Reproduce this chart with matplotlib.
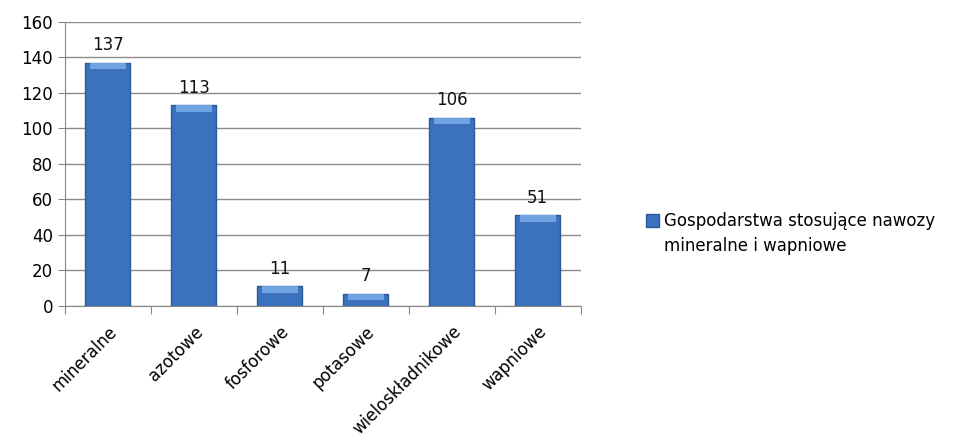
import matplotlib.pyplot as plt
from matplotlib.patches import Patch

kategorie = ['mineralne', 'azotowe', 'fosforowe', 'potasowe', 'wieloskładnikowe', 'wapniowe']
wartosci = [137, 113, 11, 7, 106, 51]
seria = ['Gospodarstwa stosujące nawozy', 'mineralne i wapniowe']
yticks = [0, 20, 40, 60, 80, 100, 120, 140, 160]

plt.rcParams['font.family'] = ['DejaVu Sans']

fig = plt.figure(figsize=(9.68, 4.48), dpi=100)
ax = fig.add_axes([0.067, 0.317, 0.533, 0.634])

x = range(len(kategorie))
bars = ax.bar(x, wartosci, width=0.52, color='#3b72bd', edgecolor='#2b5a98',
              linewidth=1.0, zorder=3)

# jasniejszy pasek na gorze slupka (efekt fazy)
for b in bars:
    h = min(b.get_height(), 3.5)
    ax.bar(b.get_x() + b.get_width() / 2, h, bottom=b.get_height() - h,
           width=b.get_width() * 0.8, color='#6fa3e2', linewidth=0, zorder=4)

for i, v in enumerate(wartosci):
    ax.text(i, v + 5, str(v), ha='center', va='bottom', fontsize=12, color='#111111')

ax.set_ylim(0, 160)
ax.set_xlim(-0.5, len(kategorie) - 0.5)
ax.set_yticks(yticks)
ax.tick_params(axis='y', labelsize=12, length=5, color='#888888')
ax.yaxis.grid(True, color='#8c8c8c', linewidth=1.0, zorder=0)

ax.set_xticks([i - 0.5 for i in range(len(kategorie) + 1)])
ax.set_xticklabels([])
ax.set_xticks(list(x), minor=True)
ax.set_xticklabels(kategorie, minor=True, rotation=45, ha='right',
                   rotation_mode='anchor', fontsize=12)
ax.tick_params(axis='x', which='major', length=6, color='#888888')
ax.tick_params(axis='x', which='minor', length=0, pad=12)

for s in ['top', 'right']:
    ax.spines[s].set_visible(False)
ax.spines['left'].set_color('#888888')
ax.spines['bottom'].set_color('#888888')

# legenda: znacznik przy pierwszej linii, druga linia dopisana pod spodem
uchwyt = Patch(facecolor='#3b72bd', edgecolor='#2b5a98')
leg = fig.legend([uchwyt], [seria[0]], loc='center left', bbox_to_anchor=(0.652, 0.506),
                 frameon=False, fontsize=12, handlelength=0.8, handleheight=0.8,
                 handletextpad=0.3)
fig.canvas.draw()
bb = leg.get_texts()[0].get_window_extent().transformed(fig.transFigure.inverted())
fig.text(bb.x0, bb.y0 - 0.056, seria[1], fontsize=12, va='bottom', ha='left')

fig.savefig('out.png', dpi=100)
